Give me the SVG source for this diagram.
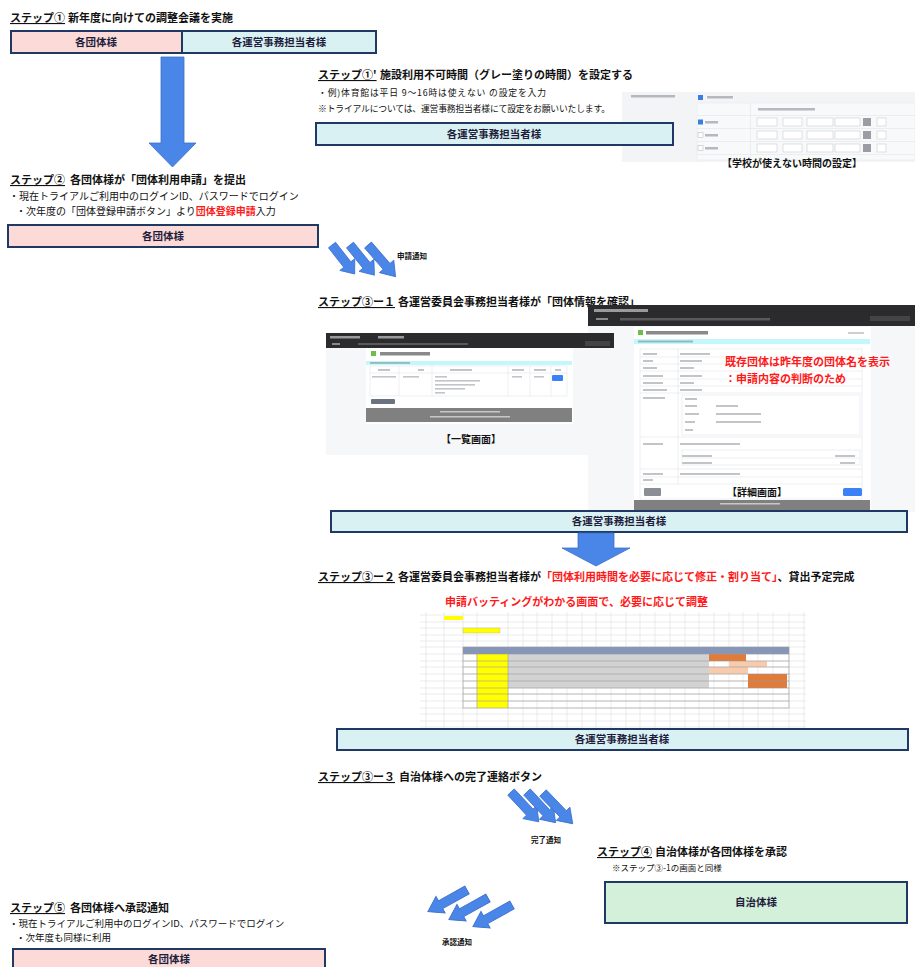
<svg xmlns="http://www.w3.org/2000/svg" width="915" height="967" viewBox="0 0 915 967">
<defs>
<style>
text{font-family:"Noto Sans CJK JP","Noto Sans CJK SC",sans-serif;fill:#111}
.t{font-size:11px;font-weight:bold}
.s{font-size:11px;font-weight:bold;text-decoration:underline}
.n{font-size:10px}
.n95{font-size:9.5px}
.n9{font-size:8.8px}
.bx{stroke:#1f3864;stroke-width:2}
.pink{fill:#fbdad7}
.cyan{fill:#daf1f3}
.green{fill:#d4efda}
.bt{font-size:10.5px;font-weight:bold;text-anchor:middle;fill:#1e1e3c}
.red{fill:#ff1a1a}
.lbl{font-size:7.5px;font-weight:bold}
.cap{font-size:10px;font-weight:bold;text-anchor:middle}
.arr{fill:#4a86e8;stroke:#3d70c9;stroke-width:0.8}
.gl{stroke:#dedede;stroke-width:0.6}
.dl{stroke:#9a9a9a;stroke-width:0.6}
.tb{fill:#b5b8be}
.dd{fill:#fff;stroke:#c8ccd2;stroke-width:0.6}
</style>
<path id="da" d="M0,-4.5 L27,-4.5 L27,-9.5 L40,0 L27,9.5 L27,4.5 L0,4.5 Z"/>
</defs>
<rect width="915" height="967" fill="#fff"/>

<!-- Step 1 -->
<g id="step1">
<text x="10" y="22" class="s">ステップ①</text>
<text x="68" y="22" class="t">新年度に向けての調整会議を実施</text>
</g>
<g id="node-dantai-1">
<rect x="11" y="31" width="171" height="22" class="bx pink"/>
<text x="96" y="46" class="bt">各団体様</text>
</g>
<g id="node-unei-1">
<rect x="182" y="31" width="194" height="22" class="bx cyan"/>
<text x="279" y="46" class="bt">各運営事務担当者様</text>
</g>

<!-- Step 1' -->
<g id="step1b">
<text x="318" y="79" class="s">ステップ①'</text>
<text x="380" y="79" class="t">施設利用不可時間（グレー塗りの時間）を設定する</text>
<text x="318" y="96" class="n9" textLength="228" lengthAdjust="spacing">・例)体育館は平日 9～16時は使えない の設定を入力</text>
<text x="318" y="112" class="n9" textLength="292" lengthAdjust="spacing">※トライアルについては、運営事務担当者様にて設定をお願いいたします。</text>
</g>

<g id="shot-settings">
<rect x="622" y="92" width="293" height="70" fill="#f3f4f6"/>
<rect x="697" y="103" width="218" height="57" fill="#f8f9fa" stroke="#e3e5e8" stroke-width="0.5"/>
<rect x="631" y="95" width="44" height="2.5" class="tb"/>
<rect x="698" y="95" width="5" height="5" fill="#3b7de0"/>
<rect x="707" y="96" width="26" height="2.5" class="tb"/>
<rect x="758" y="108" width="57" height="2.5" class="tb"/>
<line x1="697" y1="115.5" x2="915" y2="115.5" stroke="#e3e5e8" stroke-width="0.6"/>
<line x1="697" y1="128.5" x2="915" y2="128.5" stroke="#e3e5e8" stroke-width="0.6"/>
<line x1="697" y1="141.5" x2="915" y2="141.5" stroke="#e3e5e8" stroke-width="0.6"/>
<line x1="697" y1="154.5" x2="915" y2="154.5" stroke="#e3e5e8" stroke-width="0.6"/>
<line x1="750.5" y1="103" x2="750.5" y2="160" stroke="#e3e5e8" stroke-width="0.6"/>
<g id="srow1">
<rect x="698" y="119.5" width="5" height="5" fill="#3b7de0"/>
<rect x="705" y="121" width="13" height="2.5" class="tb"/>
<rect x="757" y="118" width="20" height="8" class="dd"/><rect x="783" y="118" width="19" height="8" class="dd"/>
<rect x="807" y="118" width="26" height="8" class="dd"/><rect x="835" y="118" width="25" height="8" class="dd"/>
<rect x="863" y="118" width="8" height="8" fill="#9a9da3"/><rect x="877" y="118" width="9" height="8" class="dd"/>
</g>
<g id="srow2">
<rect x="698" y="132.5" width="5" height="5" fill="#fff" stroke="#b0b4ba" stroke-width="0.5"/>
<rect x="705" y="134" width="13" height="2.5" class="tb"/>
<rect x="757" y="131" width="20" height="8" class="dd"/><rect x="783" y="131" width="19" height="8" class="dd"/>
<rect x="807" y="131" width="26" height="8" class="dd"/><rect x="835" y="131" width="25" height="8" class="dd"/>
<rect x="863" y="131" width="8" height="8" fill="#9a9da3"/><rect x="877" y="131" width="9" height="8" class="dd"/>
</g>
<g id="srow3">
<rect x="698" y="145.5" width="5" height="5" fill="#fff" stroke="#b0b4ba" stroke-width="0.5"/>
<rect x="705" y="147" width="13" height="2.5" class="tb"/>
<rect x="757" y="144" width="20" height="8" class="dd"/><rect x="783" y="144" width="19" height="8" class="dd"/>
<rect x="807" y="144" width="26" height="8" class="dd"/><rect x="835" y="144" width="25" height="8" class="dd"/>
<rect x="863" y="144" width="8" height="8" fill="#9a9da3"/><rect x="877" y="144" width="9" height="8" class="dd"/>
</g>
<text x="792" y="167" class="cap">【学校が使えない時間の設定】</text>
</g>

<g id="node-unei-2">
<rect x="316" y="123" width="357" height="22" class="bx cyan"/>
<text x="494" y="138" class="bt">各運営事務担当者様</text>
</g>

<!-- Step 2 -->
<g id="step2">
<text x="10" y="184" class="s">ステップ②</text>
<text x="70" y="184" class="t">各団体様が「団体利用申請」を提出</text>
<text x="9" y="200" class="n">・現在トライアルご利用中のログインID、パスワードでログイン</text>
<text x="16" y="214.5" class="n">・次年度の「団体登録申請ボタン」より<tspan class="red" font-weight="bold">団体登録申請</tspan>入力</text>
</g>
<g id="node-dantai-2">
<rect x="8" y="225" width="310" height="22" class="bx pink"/>
<text x="163" y="240" class="bt">各団体様</text>
</g>

<!-- Step 3-1 -->
<g id="step3-1">
<text x="318" y="306" class="s">ステップ③ー１</text>
<text x="398" y="306" class="t">各運営委員会事務担当者様が「団体情報を確認」</text>
</g>

<g id="shot-detail">
<rect x="588" y="305" width="327" height="207" fill="#f6f7f9"/>
<rect x="588" y="305" width="327" height="21" fill="#2b2b2e"/>
<rect x="594" y="309" width="40" height="3" fill="#9a9a9a"/>
<rect x="622" y="309" width="26" height="3" fill="#9a9a9a"/>
<rect x="596" y="318" width="12" height="2" fill="#8a8a8a"/>
<rect x="620" y="318" width="150" height="2.5" fill="#5a5a5a"/>
<rect x="870" y="316" width="40" height="5" fill="#444"/>
<rect x="634" y="327" width="237" height="185" fill="#fff"/>
<rect x="638" y="330" width="5" height="5" fill="#6cc04a"/>
<rect x="646" y="331" width="62" height="3.5" fill="#8a8a8a"/>
<rect x="848" y="332" width="16" height="2" fill="#cfcfcf"/>
<rect x="634" y="339" width="236" height="5" fill="#c3f7fb"/>
<rect x="638" y="340.5" width="55" height="2" fill="#8fb9c0"/>
<g fill="#c2c4c8">
<rect x="643" y="353" width="14" height="2"/><rect x="680" y="353" width="30" height="2"/>
<rect x="643" y="360" width="10" height="2"/><rect x="680" y="360" width="22" height="2"/>
<rect x="643" y="367" width="14" height="2"/><rect x="680" y="367" width="14" height="2"/>
<rect x="643" y="375" width="20" height="2"/><rect x="680" y="375" width="22" height="2"/>
<rect x="643" y="382" width="20" height="2"/><rect x="680" y="382" width="14" height="2"/>
<rect x="643" y="389" width="24" height="2"/><rect x="680" y="389" width="22" height="2"/>
<rect x="643" y="397" width="22" height="2"/><rect x="685" y="398" width="12" height="2"/>
<rect x="685" y="405" width="12" height="2"/><rect x="716" y="405" width="22" height="2"/>
<rect x="685" y="413" width="14" height="2"/><rect x="716" y="413" width="45" height="2"/>
<rect x="685" y="421" width="10" height="2"/><rect x="716" y="421" width="45" height="2"/>
<rect x="685" y="429" width="8" height="2"/>
<rect x="643" y="443" width="20" height="2"/><rect x="680" y="443" width="60" height="2"/>
<rect x="682" y="455" width="30" height="2"/><rect x="835" y="455" width="20" height="2"/>
<rect x="682" y="462" width="30" height="2"/><rect x="840" y="462" width="15" height="2"/>
<rect x="643" y="473" width="20" height="2"/><rect x="680" y="473" width="60" height="2"/>
<rect x="643" y="479" width="10" height="2"/>
</g>
<g fill="none" stroke="#e2e4e7" stroke-width="0.6">
<rect x="640" y="349" width="222" height="150"/>
<line x1="678" y1="349" x2="678" y2="484"/>
<line x1="640" y1="357" x2="862" y2="357"/>
<line x1="640" y1="364" x2="862" y2="364"/>
<line x1="640" y1="371" x2="862" y2="371"/>
<line x1="640" y1="379" x2="862" y2="379"/>
<line x1="640" y1="386" x2="862" y2="386"/>
<line x1="640" y1="393" x2="862" y2="393"/>
<rect x="682" y="395" width="178" height="40"/>
<line x1="640" y1="437" x2="862" y2="437"/>
<rect x="682" y="450" width="178" height="15"/>
<line x1="682" y1="458" x2="860" y2="458"/>
<line x1="640" y1="469" x2="862" y2="469"/>
<line x1="640" y1="477" x2="862" y2="477"/>
<line x1="640" y1="484" x2="862" y2="484"/>
</g>
<rect x="644" y="488" width="17" height="8" rx="1" fill="#8a8f96"/>
<rect x="843" y="488" width="19" height="8" rx="1.5" fill="#3b82f6"/>
<rect x="634" y="500" width="236" height="12" fill="#808080"/>
<rect x="720" y="503" width="60" height="1.5" fill="#c8c8c8"/>
<text x="725" y="366" class="t red">既存団体は昨年度の団体名を表示</text>
<text x="725" y="383" class="t red">：申請内容の判断のため</text>
<text x="757" y="496" class="cap">【詳細画面】</text>
</g>

<g id="shot-list">
<rect x="326" y="333" width="288" height="122" fill="#f6f7f9"/>
<rect x="326" y="333" width="288" height="15" fill="#2b2b2e"/>
<rect x="330" y="336" width="30" height="2.5" fill="#9a9a9a"/>
<rect x="378" y="336" width="26" height="2.5" fill="#9a9a9a"/>
<rect x="332" y="343" width="8" height="2" fill="#8a8a8a"/>
<rect x="358" y="343" width="110" height="2" fill="#5a5a5a"/>
<rect x="585" y="341" width="25" height="5" fill="#444"/>
<rect x="366" y="348" width="207" height="76" fill="#fff"/>
<rect x="371" y="351" width="5" height="5" fill="#6cc04a"/>
<rect x="380" y="352" width="50" height="3.5" fill="#8a8a8a"/>
<rect x="366" y="361" width="206" height="4" fill="#c3f7fb"/>
<rect x="370" y="362" width="40" height="1.8" fill="#8fb9c0"/>
<g fill="#c2c4c8">
<rect x="378" y="369" width="12" height="2"/><rect x="418" y="369" width="6" height="2"/>
<rect x="450" y="369" width="22" height="2"/><rect x="512" y="369" width="12" height="2"/>
<rect x="534" y="369" width="12" height="2"/><rect x="555" y="369" width="6" height="2"/>
<rect x="372" y="376" width="24" height="1.6"/><rect x="403" y="376" width="16" height="1.6"/>
<rect x="435" y="376" width="12" height="1.6"/><rect x="512" y="376" width="10" height="1.6"/>
<rect x="534" y="376" width="10" height="1.6"/>
<rect x="435" y="380" width="45" height="1.6"/><rect x="435" y="384" width="40" height="1.6"/>
<rect x="435" y="388" width="30" height="1.6"/><rect x="435" y="392" width="10" height="1.6"/>
</g>
<g fill="none" stroke="#e2e4e7" stroke-width="0.6">
<rect x="370" y="366" width="197" height="30"/>
<line x1="370" y1="373" x2="567" y2="373"/>
<line x1="399" y1="366" x2="399" y2="396"/>
<line x1="432" y1="366" x2="432" y2="396"/>
<line x1="508" y1="366" x2="508" y2="396"/>
<line x1="530" y1="366" x2="530" y2="396"/>
<line x1="551" y1="366" x2="551" y2="396"/>
</g>
<rect x="552" y="375" width="11" height="6" rx="1" fill="#3b82f6"/>
<rect x="371" y="399" width="24" height="5" rx="1" fill="#6b7280"/>
<rect x="366" y="408" width="206" height="14" fill="#808080"/>
<rect x="440" y="411" width="60" height="1.5" fill="#c8c8c8"/>
<rect x="430" y="416" width="80" height="1.5" fill="#c8c8c8"/>
<text x="471" y="443" class="cap">【一覧画面】</text>
</g>

<g id="node-unei-3">
<rect x="331" y="511" width="576" height="21" class="bx cyan"/>
<text x="619" y="525" class="bt">各運営事務担当者様</text>
</g>

<!-- Step 3-2 -->
<g id="step3-2">
<text x="318" y="581" class="s">ステップ③ー２</text>
<text x="398" y="581" class="t">各運営委員会事務担当者様が<tspan class="red">「団体利用時間を必要に応じて修正・割り当て」</tspan>、貸出予定完成</text>
<text x="445" y="606" class="t red">申請バッティングがわかる画面で、必要に応じて調整</text>
</g>

<g id="sheet">
<g class="gl">
<line x1="420" y1="615" x2="806" y2="615"/><line x1="420" y1="622" x2="806" y2="622"/>
<line x1="420" y1="628" x2="806" y2="628"/><line x1="420" y1="635" x2="806" y2="635"/>
<line x1="420" y1="641" x2="806" y2="641"/><line x1="420" y1="647" x2="806" y2="647"/>
<line x1="420" y1="654" x2="806" y2="654"/><line x1="420" y1="661" x2="806" y2="661"/>
<line x1="420" y1="667" x2="806" y2="667"/><line x1="420" y1="674" x2="806" y2="674"/>
<line x1="420" y1="681" x2="806" y2="681"/><line x1="420" y1="688" x2="806" y2="688"/>
<line x1="420" y1="694" x2="806" y2="694"/><line x1="420" y1="701" x2="806" y2="701"/>
<line x1="420" y1="708" x2="806" y2="708"/><line x1="420" y1="714" x2="806" y2="714"/>
<line x1="420" y1="721" x2="806" y2="721"/><line x1="420" y1="727" x2="806" y2="727"/>
<line x1="426" y1="612" x2="426" y2="728"/><line x1="444" y1="612" x2="444" y2="728"/>
<line x1="463" y1="612" x2="463" y2="728"/><line x1="477" y1="612" x2="477" y2="728"/>
<line x1="508" y1="612" x2="508" y2="728"/><line x1="523" y1="612" x2="523" y2="728"/>
<line x1="537" y1="612" x2="537" y2="728"/><line x1="552" y1="612" x2="552" y2="728"/>
<line x1="567" y1="612" x2="567" y2="728"/><line x1="582" y1="612" x2="582" y2="728"/>
<line x1="596" y1="612" x2="596" y2="728"/><line x1="611" y1="612" x2="611" y2="728"/>
<line x1="626" y1="612" x2="626" y2="728"/><line x1="640" y1="612" x2="640" y2="728"/>
<line x1="655" y1="612" x2="655" y2="728"/><line x1="670" y1="612" x2="670" y2="728"/>
<line x1="685" y1="612" x2="685" y2="728"/><line x1="699" y1="612" x2="699" y2="728"/>
<line x1="714" y1="612" x2="714" y2="728"/><line x1="729" y1="612" x2="729" y2="728"/>
<line x1="743" y1="612" x2="743" y2="728"/><line x1="758" y1="612" x2="758" y2="728"/>
<line x1="773" y1="612" x2="773" y2="728"/><line x1="789" y1="612" x2="789" y2="728"/>
<line x1="804" y1="612" x2="804" y2="728"/>
</g>
<rect x="444" y="616" width="19" height="4" fill="#ffff00"/>
<rect x="463" y="628" width="37" height="5" fill="#ffff00" stroke="#999" stroke-width="0.3"/>
<rect x="463" y="647" width="326" height="7" fill="#8596b9"/>
<rect x="477" y="654" width="31" height="54" fill="#ffff00"/>
<rect x="508" y="654" width="201" height="34" fill="#d2d2d2"/>
<rect x="709" y="654" width="37" height="7" fill="#e07b39"/>
<rect x="729" y="661" width="38" height="6" fill="#f8cbad"/>
<rect x="709" y="667" width="39" height="7" fill="#f8cbad"/>
<rect x="748" y="674" width="39" height="14" fill="#e07b39"/>
<g class="dl" fill="none">
<rect x="463" y="647" width="326" height="61"/>
<line x1="463" y1="654" x2="789" y2="654"/><line x1="463" y1="661" x2="789" y2="661"/>
<line x1="463" y1="667" x2="789" y2="667"/><line x1="463" y1="674" x2="789" y2="674"/>
<line x1="463" y1="681" x2="789" y2="681"/><line x1="463" y1="688" x2="789" y2="688"/>
<line x1="463" y1="694" x2="789" y2="694"/><line x1="463" y1="701" x2="789" y2="701"/>
<line x1="477" y1="647" x2="477" y2="708"/><line x1="508" y1="647" x2="508" y2="708"/>
</g>
</g>

<g id="node-unei-4">
<rect x="337" y="729" width="571" height="21" class="bx cyan"/>
<text x="622" y="743" class="bt">各運営事務担当者様</text>
</g>

<!-- Step 3-3 -->
<g id="step3-3">
<text x="318" y="781" class="s">ステップ③ー３</text>
<text x="399" y="781" class="t">自治体様への完了連絡ボタン</text>
</g>

<!-- Step 4 -->
<g id="step4">
<text x="597" y="856" class="s">ステップ④</text>
<text x="655" y="856" class="t">自治体様が各団体様を承認</text>
<text x="612" y="871" style="font-size:8.5px">※ステップ③-1の画面と同様</text>
</g>
<g id="node-jichitai">
<rect x="605" y="882" width="302" height="41" class="bx green"/>
<text x="756" y="906" class="bt">自治体様</text>
</g>

<!-- Step 5 -->
<g id="step5">
<text x="10" y="912" class="s">ステップ⑤</text>
<text x="70" y="912" class="t">各団体様へ承認通知</text>
<text x="9" y="927" class="n95">・現在トライアルご利用中のログインID、パスワードでログイン</text>
<text x="16" y="941" class="n95">・次年度も同様に利用</text>
</g>
<g id="node-dantai-3">
<rect x="13" y="949" width="312" height="26" class="bx pink"/>
<text x="169" y="963" class="bt">各団体様</text>
</g>

<!-- connectors -->
<g id="connectors">
<path class="arr" d="M161,57 L184,57 L184,143 L196,143 L172.5,167 L149,143 L161,143 Z"/>
<path class="arr" d="M578,533 L614,533 L614,548 L630,548 L596,566 L562,548 L578,548 Z"/>
<use href="#da" class="arr" transform="translate(332,245) rotate(52) scale(0.92,1)"/>
<use href="#da" class="arr" transform="translate(350,245) rotate(51) scale(0.97,1)"/>
<use href="#da" class="arr" transform="translate(368,245) rotate(49) scale(1.05,1)"/>
<text x="397" y="259" class="lbl">申請通知</text>
<use href="#da" class="arr" transform="translate(511,792) rotate(47) scale(1.02,1)"/>
<use href="#da" class="arr" transform="translate(527,792) rotate(47) scale(1.05,1)"/>
<use href="#da" class="arr" transform="translate(543,793) rotate(46) scale(1.07,1)"/>
<text x="531" y="843" class="lbl">完了通知</text>
<use href="#da" class="arr" transform="translate(467,890) rotate(151) scale(1.12,1)"/>
<use href="#da" class="arr" transform="translate(488,898) rotate(151) scale(1.12,1)"/>
<use href="#da" class="arr" transform="translate(512,905) rotate(151) scale(1.12,1)"/>
<text x="442" y="945" class="lbl">承認通知</text>
</g>
</svg>
